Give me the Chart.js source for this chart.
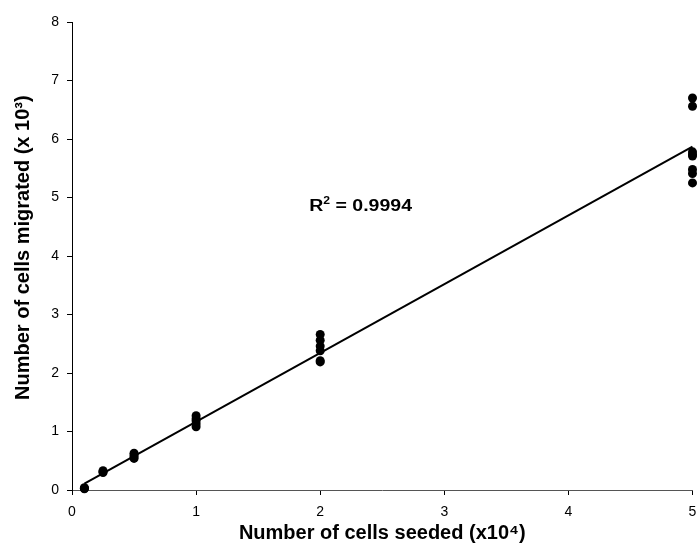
<!DOCTYPE html>
<html>
<head>
<meta charset="utf-8">
<script src="https://cdn.jsdelivr.net/npm/chart.js@4"></script>
<style>
  html, body { margin: 0; padding: 0; background: #fff; }
  #wrap { width: 697px; height: 550px; position: relative; }
</style>
</head>
<body>
<div id="wrap"><canvas id="c" width="697" height="550"></canvas></div>
<script>
// ---- data ----
const seededX = [0.1, 0.1, 0.1,
                 0.25, 0.25, 0.25,
                 0.5, 0.5, 0.5, 0.5,
                 1, 1, 1, 1, 1,
                 2, 2, 2, 2, 2, 2,
                 5, 5, 5, 5, 5, 5, 5, 5];
const migratedY = [0.02, 0.03, 0.04,
                   0.30, 0.31, 0.33,
                   0.54, 0.57, 0.60, 0.63,
                   1.08, 1.13, 1.18, 1.22, 1.27,
                   2.19, 2.21, 2.38, 2.46, 2.56, 2.66,
                   5.25, 5.41, 5.48, 5.71, 5.74, 5.78, 6.56, 6.70];
const fitX = [0.1, 5];
const fitY = [0.11, 5.87];
const xTicks = [0, 1, 2, 3, 4, 5];
const yTicks = [0, 1, 2, 3, 4, 5, 6, 7, 8];
const rText = ['R', '2', ' = 0.9994'];
const rPos = [2.74, 4.88];

const FONT = '"Liberation Sans", Arial, sans-serif';

const rPlugin = {
  id: 'rlabel',
  afterDatasetsDraw(chart) {
    const {ctx, scales: {x, y}} = chart;
    const px = x.getPixelForValue(rPos[0]);
    const py = y.getPixelForValue(rPos[1]);
    const stretch = 1.22;
    ctx.save();
    ctx.fillStyle = '#000';
    ctx.textBaseline = 'alphabetic';
    ctx.textAlign = 'left';
    ctx.font = 'bold 16px ' + FONT;
    const w0 = ctx.measureText(rText[0]).width;
    const w2 = ctx.measureText(rText[2]).width;
    ctx.font = 'bold 10px ' + FONT;
    const w1 = ctx.measureText(rText[1]).width;
    const total = (w0 + w1 + w2) * stretch;
    const sx = px - total;
    const base = py + 6;
    ctx.translate(sx, base);
    ctx.scale(stretch, 1);
    ctx.font = 'bold 16px ' + FONT;
    ctx.fillText(rText[0], 0, 0);
    ctx.font = 'bold 10px ' + FONT;
    ctx.fillText(rText[1], w0, -7);
    ctx.font = 'bold 16px ' + FONT;
    ctx.fillText(rText[2], w0 + w1, 0);
    ctx.restore();
  }
};

new Chart(document.getElementById('c'), {
  type: 'scatter',
  data: {
    datasets: [
      {
        type: 'scatter',
        data: seededX.map((v, i) => ({x: v, y: migratedY[i]})),
        backgroundColor: '#000',
        borderWidth: 0,
        pointRadius: 4.5,
        pointHoverRadius: 4.5,
        clip: false,
        order: 1
      },
      {
        type: 'line',
        data: fitX.map((v, i) => ({x: v, y: fitY[i]})),
        borderColor: '#000',
        borderWidth: 2,
        pointRadius: 0,
        fill: false,
        tension: 0,
        clip: false,
        order: 2
      }
    ]
  },
  options: {
    responsive: false,
    animation: false,
    events: [],
    layout: { padding: { top: 22, right: 3, bottom: 0, left: 0 } },
    plugins: { legend: { display: false }, tooltip: { enabled: false } },
    scales: {
      x: {
        type: 'linear',
        min: 0, max: 5,
        afterBuildTicks: s => { s.ticks = xTicks.map(v => ({value: v})); },
        afterFit: s => { s.height = 60; s.paddingLeft = 0; s.paddingRight = 0; },
        ticks: { color: '#000', font: { family: FONT, size: 14 }, padding: 9, maxRotation: 0 },
        grid: { drawOnChartArea: false, drawTicks: true, tickLength: 5, color: '#000' },
        border: { display: true, color: '#555', width: 1 },
        title: {
          display: true,
          text: 'Number of cells seeded (x10\u2074)',
          color: '#000',
          font: { family: FONT, size: 20, weight: 'bold' },
          padding: { top: 0, bottom: 5 }
        }
      },
      y: {
        type: 'linear',
        min: 0, max: 8,
        afterBuildTicks: s => { s.ticks = yTicks.map(v => ({value: v})); },
        afterFit: s => { s.width = 72; s.paddingTop = 0; s.paddingBottom = 0; },
        ticks: { color: '#000', font: { family: FONT, size: 14 }, padding: 8 },
        grid: { drawOnChartArea: false, drawTicks: true, tickLength: 5, color: '#000' },
        border: { display: true, color: '#000', width: 1 },
        title: {
          display: true,
          text: '   Number of cells migrated (x 10\u00b3)',
          color: '#000',
          font: { family: FONT, size: 20, weight: 'bold' },
          padding: { top: 11, bottom: 0 }
        }
      }
    }
  },
  plugins: [rPlugin]
});
</script>
</body>
</html>
